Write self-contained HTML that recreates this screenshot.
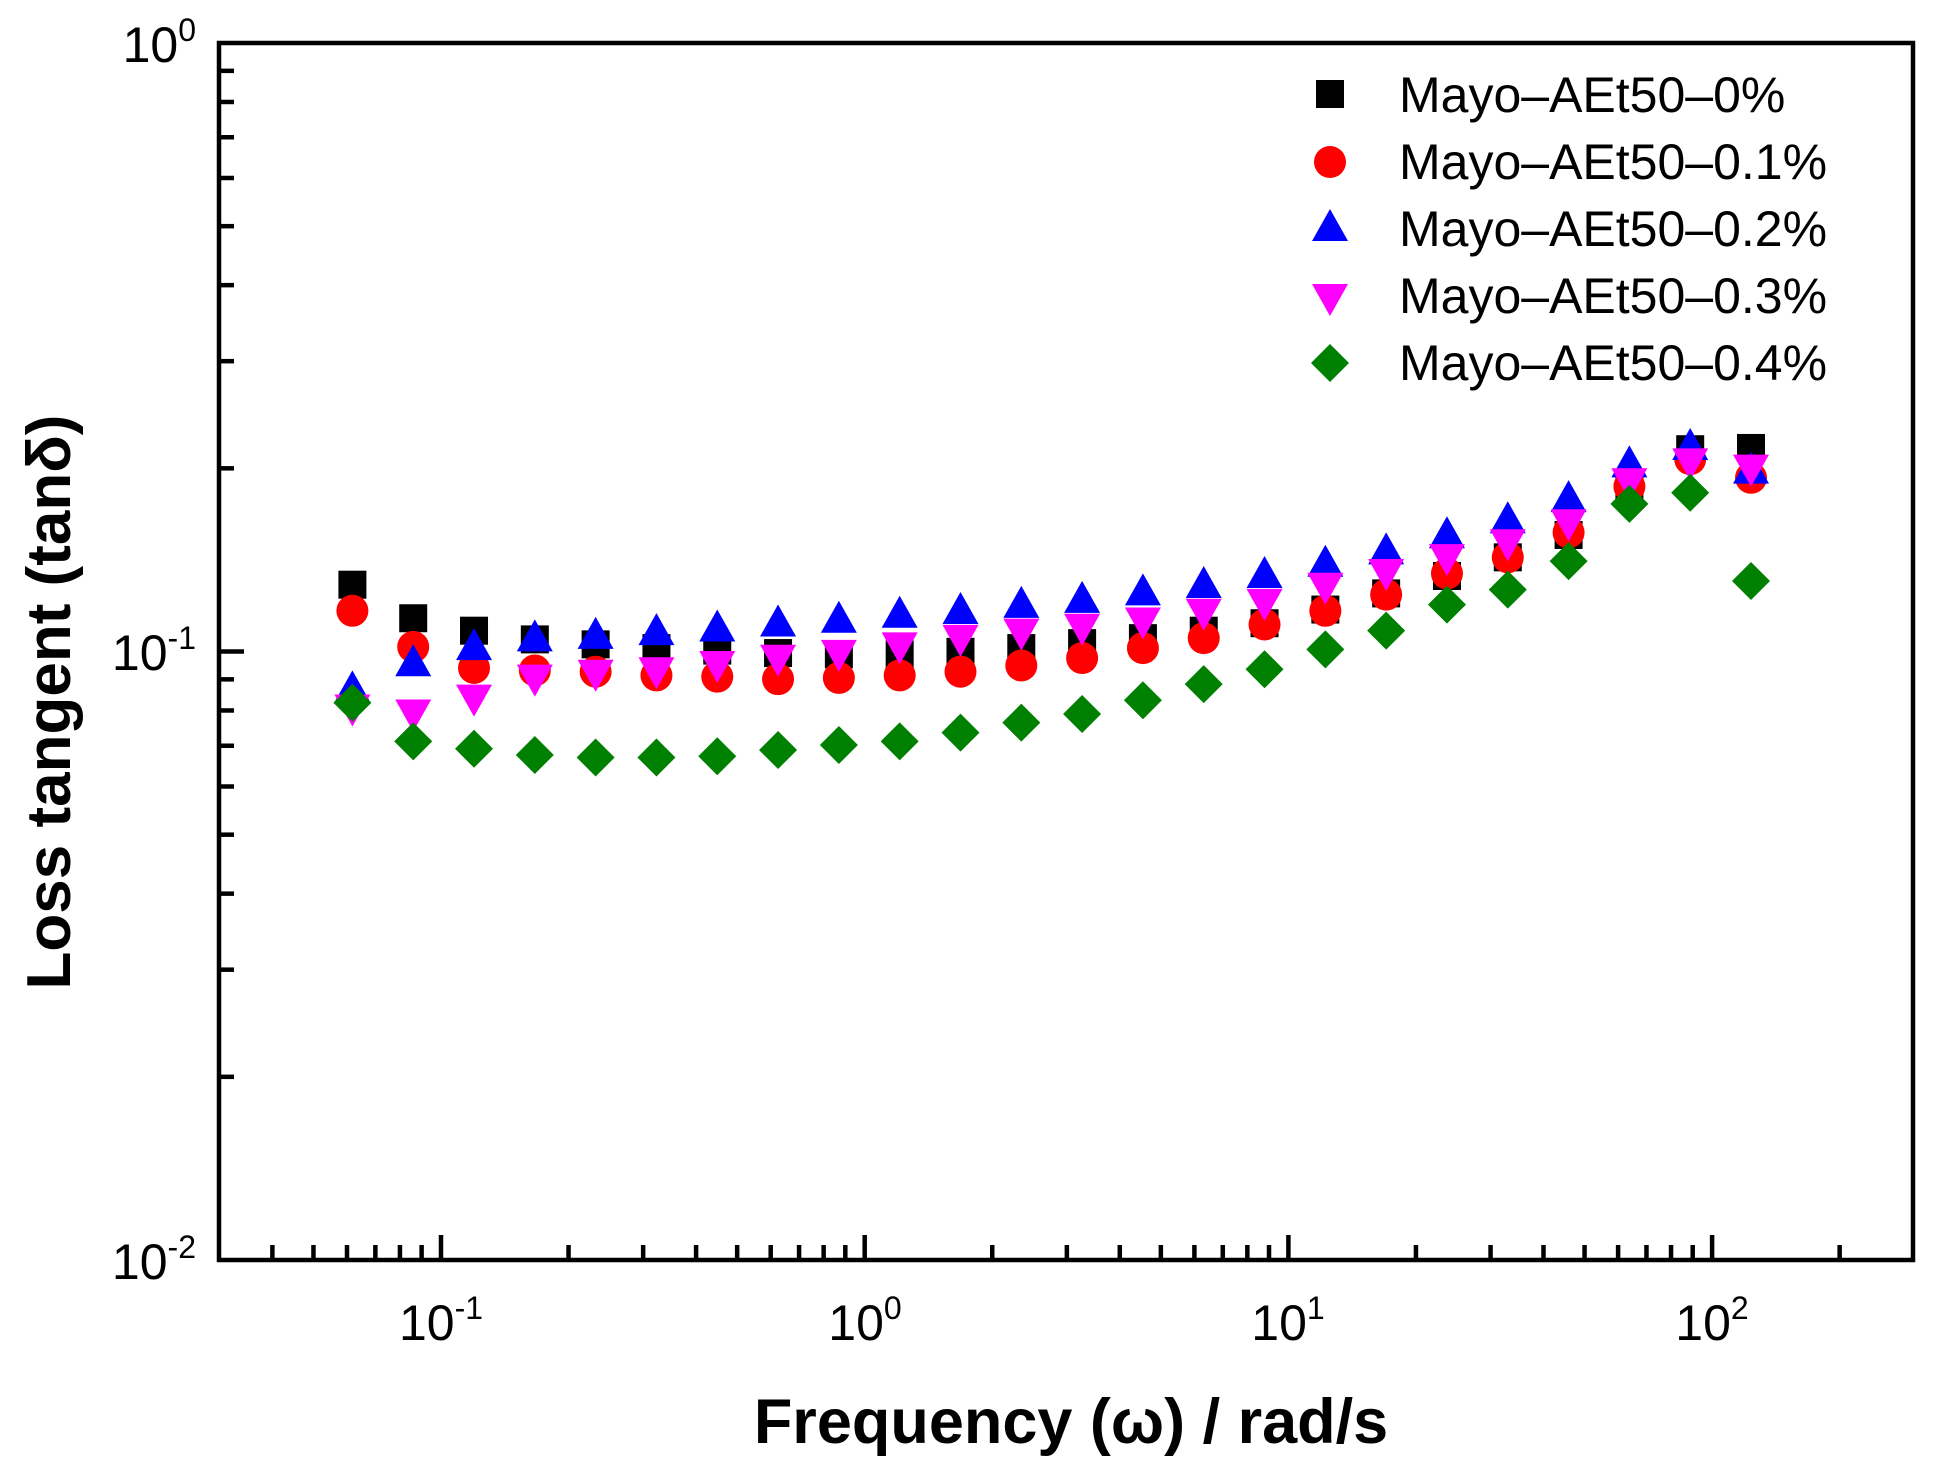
<!DOCTYPE html>
<html><head><meta charset="utf-8"><style>html,body{margin:0;padding:0;background:#fff}svg{display:block}</style></head>
<body>
<svg id="s" width="1939" height="1480" viewBox="0 0 1939 1480" xmlns="http://www.w3.org/2000/svg" font-family="Liberation Sans, Arial, sans-serif">
<rect width="1939" height="1480" fill="#fff"/>
<g id="ax" stroke="#000" stroke-width="4.5" fill="none" stroke-linecap="butt">
<rect x="219" y="43" width="1694" height="1217"/>
</g>
<g id="tk" stroke="#000" stroke-width="4.5"></g>
<g id="pts"></g>
<g font-size="50" fill="#000">
<text x="196" y="62" text-anchor="end">10<tspan font-size="32" dy="-21">0</tspan></text>
<text x="196" y="670" text-anchor="end">10<tspan font-size="32" dy="-21">-1</tspan></text>
<text x="196" y="1279" text-anchor="end">10<tspan font-size="32" dy="-21">-2</tspan></text>
<text x="441" y="1340" text-anchor="middle">10<tspan font-size="32" dy="-21">-1</tspan></text>
<text x="865" y="1340" text-anchor="middle">10<tspan font-size="32" dy="-21">0</tspan></text>
<text x="1288" y="1340" text-anchor="middle">10<tspan font-size="32" dy="-21">1</tspan></text>
<text x="1712" y="1340" text-anchor="middle">10<tspan font-size="32" dy="-21">2</tspan></text>
</g>
<text x="1071" y="1443" text-anchor="middle" font-size="63" font-weight="bold">Frequency (ω) / rad/s</text>
<text transform="translate(70,702) rotate(-90)" text-anchor="middle" font-size="62" font-weight="bold">Loss tangent (tanδ)</text>
<g font-size="50" fill="#000">
<text x="1399" y="112">Mayo–AEt50–0%</text>
<text x="1399" y="179">Mayo–AEt50–0.1%</text>
<text x="1399" y="246">Mayo–AEt50–0.2%</text>
<text x="1399" y="313">Mayo–AEt50–0.3%</text>
<text x="1399" y="380">Mayo–AEt50–0.4%</text>
</g>
<script>
var NS="http://www.w3.org/2000/svg";
function el(p,n,a){var e=document.createElementNS(NS,n);for(var k in a)e.setAttribute(k,a[k]);p.appendChild(e);return e;}
var tk=document.getElementById('tk'),pts=document.getElementById('pts');
function X(l){return 441+(l+1)*423.7;}
function Yl(l){return 43-l*608.5;}
for(var d=-2;d<=2;d++)for(var m=1;m<=9;m++){var l=d+Math.log10(m);var x=X(l);if(x<=221||x>=1911)continue;var L=(m==1)?25:15;el(tk,'line',{x1:x,y1:1260,x2:x,y2:1260-L});}
for(var d=-2;d<=0;d++)for(var m=1;m<=9;m++){var l=d+Math.log10(m);var y=Yl(l);if(y<=45||y>=1258)continue;var L=(m==1)?25:15;el(tk,'line',{x1:219,y1:y,x2:219+L,y2:y});}
function mk(type,cx,cy){
 if(type==0)el(pts,'rect',{x:cx-14,y:cy-14,width:28,height:28,fill:'#000'});
 else if(type==1)el(pts,'circle',{cx:cx,cy:cy,r:16,fill:'#ff0000'});
 else if(type==2)el(pts,'polygon',{points:(cx-18)+','+(cy+12)+' '+(cx+18)+','+(cy+12)+' '+cx+','+(cy-20),fill:'#0000ff'});
 else if(type==3)el(pts,'polygon',{points:(cx-18)+','+(cy-12)+' '+(cx+18)+','+(cy-12)+' '+cx+','+(cy+20),fill:'#ff00ff'});
 else el(pts,'polygon',{points:cx+','+(cy-19)+' '+(cx+19)+','+cy+' '+cx+','+(cy+19)+' '+(cx-19)+','+cy,fill:'#008000'});
}
var D=[
[472,499,509,516,520,523,525,527,528,528,526,523,519,515,509,503,492,479,465,450,432,392,363,362],
[493,522,539,541,542,545,546,548,547,545,542,537,531,523,515,504,493,480,463,450,430,393,371,386],
[557,536,523,516,514,511,508,504,501,497,494,489,485,479,473,465,456,446,433,421,404,376,362,381],
[570,574,562,546,542,540,535,530,526,520,514,509,505,500,493,485,472,461,449,437,421,388,372,377],
[567,598,604,609,611,611,610,605,601,598,591,583,576,565,552,540,524,509,488,476,453,407,398,469]];
for(var s=0;s<5;s++)for(var i=0;i<24;i++){var lx=Math.log10(0.0628)+i*0.14352;mk(s,X(lx)-3,D[s][i]*1.243-2);}
var ly=[94,162,229,296,363];for(var s=0;s<5;s++)mk(s,1330,ly[s]);
</script>
</svg>
</body></html>
